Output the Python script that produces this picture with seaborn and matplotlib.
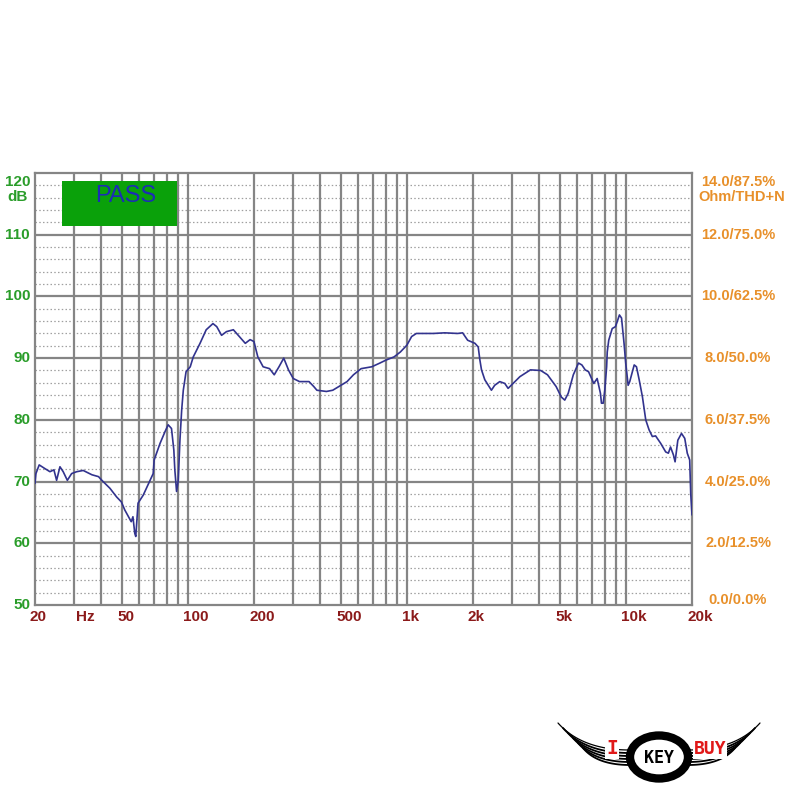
import numpy as np
import pandas as pd
import matplotlib
matplotlib.use("Agg")
import matplotlib.pyplot as plt
import matplotlib.transforms as mtransforms
from matplotlib.patches import Rectangle, Ellipse
import seaborn as sns

# frequency response (Hz, dB)
freq = [20, 20.2, 20.9, 22.2, 23.4, 24.4, 25.1, 26.0, 26.9, 28.1, 29.4, 31.0, 33.2, 36.4,
        39.0, 40.4, 44.0, 47.2, 49.6, 51.4, 54.0, 55.0, 56.0, 57.1, 57.7, 58.5, 59.1,
        62.4, 69.3, 70.0, 74.5, 78.5, 81.1, 84.0, 86.1, 87.0, 88.6, 90.2, 91.8, 93.5,
        95.1, 97.9, 102.3, 105.6, 113.4, 121.0, 129.9, 135.2, 142.2, 149.8, 161.0, 169.4,
        182.5, 191.9, 199.8, 208.2, 220.1, 235.5, 247.4, 260.1, 273.4, 287.4, 302.1,
        322.7, 356.7, 374.9, 387.5, 428.3, 457.7, 532, 569, 617, 690, 751, 803, 872, 932,
        998, 1049, 1103, 1318, 1485, 1703, 1793, 1891, 2042, 2113, 2150, 2187, 2264, 2427,
        2512, 2650, 2794, 2893, 3050, 3275, 3658, 4076, 4378, 4793, 5061, 5248, 5442,
        5742, 6063, 6282, 6507, 6740, 7121, 7378, 7637, 7720, 7862, 7995, 8152, 8204,
        8333, 8645, 8941, 9108, 9325, 9534, 9788, 9963, 10220, 10392, 10892, 11156,
        11477, 11880, 12297, 12730, 13180, 13640, 14385, 15170, 15600, 15960, 16460,
        16740, 17230, 17910, 18530, 19030, 19520, 19730, 19900, 20000]
spl = [69.7, 71.3, 72.7, 72.1, 71.6, 71.9, 70.2, 72.4, 71.6, 70.2, 71.3, 71.6, 71.8, 71.1,
       70.8, 70.2, 68.9, 67.5, 66.7, 65.4, 64.0, 63.5, 64.3, 61.6, 61.1, 64.3, 66.5,
       67.8, 71.3, 73.5, 76.2, 78.1, 79.2, 78.6, 75.1, 71.9, 68.4, 70.2, 76.7, 81.6,
       84.8, 87.8, 88.6, 90.2, 92.4, 94.6, 95.6, 95.1, 93.7, 94.3, 94.6, 93.7,
       92.4, 93.0, 92.7, 90.2, 88.6, 88.3, 87.3, 88.6, 90.0, 88.1, 86.7,
       86.2, 86.2, 85.4, 84.8, 84.6, 84.8, 86.2, 87.3, 88.3, 88.6, 89.2, 89.7, 90.2, 91.0,
       92.1, 93.5, 94.0, 94.0, 94.1, 94.0, 94.1, 92.9, 92.4, 91.8, 89.7, 88.1, 86.5, 84.8,
       85.6, 86.2, 85.9, 85.1, 85.9, 87.0, 88.1, 88.0, 87.3, 85.4, 83.7, 83.2, 84.3,
       87.3, 89.2, 88.9, 88.1, 87.8, 85.9, 86.7, 84.3, 82.7, 82.7, 84.8, 88.6, 91.0,
       92.9, 94.8, 95.1, 95.9, 97.0, 96.5, 92.4, 89.2, 85.6, 86.2, 88.9, 88.6,
       86.5, 83.7, 80.0, 78.4, 77.3, 77.4, 76.2, 74.8, 74.6, 75.6, 74.3,
       73.2, 76.7, 77.8, 77.0, 74.6, 73.5, 68.1, 65.9, 64.6]

x_ticks = [20, 50, 100, 200, 500, 1000, 2000, 5000, 10000, 20000]
x_labels = ["20", "50", "100", "200", "500", "1k", "2k", "5k", "10k", "20k"]
left_ticks = [50, 60, 70, 80, 90, 100, 110]
left_labels = ["50", "60", "70", "80", "90", "100", "110"]
right_ticks = [50.8, 60, 70, 80, 90, 100, 110]
right_labels = ["0.0/0.0%", "2.0/12.5%", "4.0/25.0%", "6.0/37.5%", "8.0/50.0%",
                "10.0/62.5%", "12.0/75.0%"]

df = pd.DataFrame({"freq": freq, "spl": spl})

sns.set_style("white")
plt.rcParams["font.family"] = ["Liberation Sans", "DejaVu Sans"]

green = "#2a9d2a"
orange = "#e8902a"
darkred = "#8b1a1a"
gridc = "#858585"

fig = plt.figure(figsize=(8, 8), dpi=100)
ax = fig.add_axes([35 / 800, 1 - 605 / 800, 657 / 800, 432 / 800])
ax.set_xscale("log")
ax.set_xlim(20, 20000)
ax.set_ylim(50, 120)

# grid
for y in np.arange(52, 120, 2):
    if y % 10:
        ax.axhline(y, color="#a0a0a0", lw=0.9, ls=(0, (1.2, 1.8)), zorder=1)
for y in range(60, 120, 10):
    ax.axhline(y, color=gridc, lw=1.6, zorder=2)
vlines = list(range(30, 100, 10)) + list(range(100, 1000, 100)) + \
    list(range(1000, 10000, 1000)) + [10000]
for v in vlines:
    ax.axvline(v, color=gridc, lw=1.6, zorder=2)
for s in ax.spines.values():
    s.set_color(gridc)
    s.set_linewidth(1.6)

sns.lineplot(data=df, x="freq", y="spl", ax=ax, color="#32338e", lw=1.2, zorder=5)
ax.set_xlabel("")
ax.set_ylabel("")
ax.set_xticks([])
ax.set_yticks([])
ax.minorticks_off()

# x labels
xt = mtransforms.offset_copy(ax.get_xaxis_transform(), fig=fig, x=-5, y=-5, units="dots")
for v, lab in zip(x_ticks, x_labels):
    ax.text(v, 0, lab, transform=xt, ha="left", va="top", color=darkred,
            fontsize=11, fontweight="bold")
ax.text(30, 0, "Hz", transform=mtransforms.offset_copy(ax.get_xaxis_transform(), fig=fig,
        x=2, y=-5, units="dots"), ha="left", va="top", color=darkred,
        fontsize=11, fontweight="bold")

# left labels
yt = mtransforms.offset_copy(ax.get_yaxis_transform(), fig=fig, x=-5, y=0, units="dots")
for v, lab in zip(left_ticks, left_labels):
    ax.text(0, v, lab, transform=yt, ha="right", va="center", color=green,
            fontsize=11, fontweight="bold")
ax.text(0, 118.6, "120", transform=yt, ha="right", va="center", color=green,
        fontsize=11, fontweight="bold")
ax.text(-28 / 657, 116.1, "dB", transform=ax.get_yaxis_transform(), ha="left",
        va="center", color=green, fontsize=11, fontweight="bold")

# right labels
rx = (738 - 35) / 657
for v, lab in zip(right_ticks, right_labels):
    ax.text(rx, v, lab, transform=ax.get_yaxis_transform(), ha="center", va="center",
            color=orange, fontsize=10.5, fontweight="bold")
ax.text(rx, 118.6, "14.0/87.5%", transform=ax.get_yaxis_transform(), ha="center",
        va="center", color=orange, fontsize=10.5, fontweight="bold")
ax.text(rx + 4 / 657, 116.1, "Ohm/THD+N", transform=ax.get_yaxis_transform(),
        ha="center", va="center", color=orange, fontsize=10.5, fontweight="bold")

# PASS box
ax.add_patch(Rectangle(((62 - 35) / 657, (605 - 226) / 432), 115 / 657, 45 / 432,
                       transform=ax.transAxes, facecolor="#0aa10a", edgecolor="none",
                       zorder=6))
ax.text((126 - 35) / 657, (605 - 196) / 432, "PASS", transform=ax.transAxes,
        ha="center", va="center", color="#1c2db5", fontsize=17, zorder=7)

# logo
lg = fig.add_axes([540 / 800, 0, 260 / 800, 100 / 800])
lg.set_xlim(0, 260)
lg.set_ylim(100, 0)
lg.axis("off")
t = np.linspace(0, 1, 40)
for k in range(6):
    # wing feathers, mirrored
    x0, y0 = 18 + k * 5, 23 + k * 5
    x1, y1 = 90, 50 + k * 3
    cx, cy = 42 + k * 3, 50 + k * 3
    xs = (1 - t) ** 2 * x0 + 2 * (1 - t) * t * cx + t ** 2 * x1
    ys = (1 - t) ** 2 * y0 + 2 * (1 - t) * t * cy + t ** 2 * y1
    w = 0.9 if k == 0 else 1.3
    lg.plot(xs, ys, color="black", lw=w)
    lg.plot(238 - xs, ys, color="black", lw=w)
lg.add_patch(Ellipse((119, 57), 58, 43, facecolor="white", edgecolor="black", lw=6))
lg.text(119, 58, "KEY", ha="center", va="center", fontsize=12, fontweight="bold",
        color="black", family="DejaVu Sans Mono")
lg.text(72, 49, "I", ha="center", va="center", fontsize=14, fontweight="bold",
        color="#e01818", family="DejaVu Sans Mono",
        bbox=dict(facecolor="white", edgecolor="none", pad=0.5))
lg.text(170, 49, "BUY", ha="center", va="center", fontsize=13, fontweight="bold",
        color="#e01818", family="DejaVu Sans Mono",
        bbox=dict(facecolor="white", edgecolor="none", pad=0.5))

fig.savefig("out.png", dpi=100)
